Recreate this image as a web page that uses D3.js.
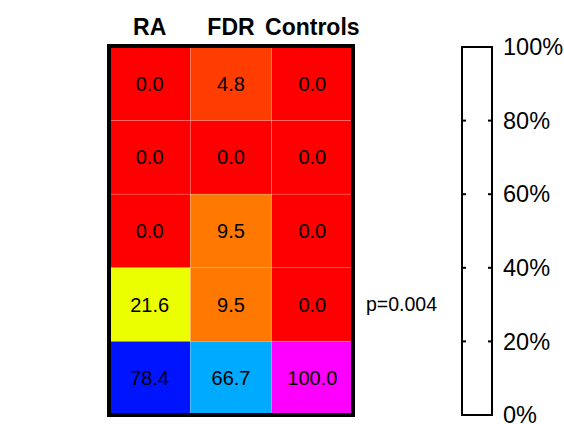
<!DOCTYPE html>
<meta charset="utf-8">
<style>

body { margin: 0; background: #fff; }

svg text {
  font-family: Arial, "Liberation Sans", sans-serif;
  fill: #000;
}

.header text {
  font-weight: bold;
  font-size: 23px;
}

.cells rect {
  stroke: #fff;
  stroke-opacity: 0.25;
  stroke-width: 0.6px;
}

.cells text {
  font-size: 20px;
}

.legend text {
  font-size: 23.5px;
}

</style>

<svg width="564" height="424"></svg>
<script src="https://d3js.org/d3.v7.min.js"></script>
<script>

var groups = ["RA", "FDR", "Controls"];
var rows = [0, 1, 2, 3, 4];

var raValues = [0.0, 0.0, 0.0, 21.6, 78.4];
var fdrValues = [4.8, 0.0, 9.5, 9.5, 66.7];
var controlValues = [0.0, 0.0, 0.0, 0.0, 100.0];

var pLabel = "p=0.004";
var legendTicks = [0, 20, 40, 60, 80, 100];

var svg = d3.select("svg");

// one record per cell
var cells = [];
[raValues, fdrValues, controlValues].forEach(function(vals, i) {
  vals.forEach(function(v, j) {
    cells.push({ group: groups[i], row: rows[j], value: v });
  });
});

var x = d3.scaleBand().domain(groups).range([109, 353]);
var y = d3.scaleBand().domain(rows).range([47, 415]);

// hsv style colormap: 0 -> red, 100 -> magenta
var hue = d3.scaleLinear().domain([0, 100]).range([0, 300]);
function color(v) { return d3.hsl(hue(v), 1, 0.5).toString(); }

var header = svg.append("g").attr("class", "header");
header.selectAll("text")
    .data(groups)
  .enter().append("text")
    .attr("x", function(d) { return x(d) + x.bandwidth() / 2; })
    .attr("y", 35)
    .attr("text-anchor", "middle")
    .text(function(d) { return d; });

var cell = svg.append("g").attr("class", "cells")
  .selectAll("g")
    .data(cells)
  .enter().append("g");

cell.append("rect")
    .attr("x", function(d) { return x(d.group); })
    .attr("y", function(d) { return y(d.row); })
    .attr("width", x.bandwidth())
    .attr("height", y.bandwidth())
    .attr("fill", function(d) { return color(d.value); });

cell.append("text")
    .attr("x", function(d) { return x(d.group) + x.bandwidth() / 2; })
    .attr("y", function(d) { return y(d.row) + y.bandwidth() / 2; })
    .attr("dy", "0.35em")
    .attr("text-anchor", "middle")
    .text(function(d) { return d.value.toFixed(1); });

// frame around the heat map
svg.append("rect")
    .attr("x", 109)
    .attr("y", 46)
    .attr("width", 244)
    .attr("height", 369)
    .attr("fill", "none")
    .attr("stroke", "#000")
    .attr("stroke-width", 4);

svg.append("text")
    .attr("x", 366)
    .attr("y", y(3) + y.bandwidth() / 2)
    .attr("dy", "0.35em")
    .style("font-size", "19.5px")
    .text(pLabel);

// colour bar (drawn empty)
var ly = d3.scaleLinear().domain([0, 100]).range([415, 47]);
var legend = svg.append("g").attr("class", "legend");

legend.append("rect")
    .attr("x", 462)
    .attr("y", ly(100))
    .attr("width", 30)
    .attr("height", ly(0) - ly(100))
    .attr("fill", "#fff")
    .attr("stroke", "#000")
    .attr("stroke-width", 2);

var tick = legend.selectAll(".tick")
    .data(legendTicks)
  .enter().append("g")
    .attr("class", "tick")
    .attr("transform", function(d) { return "translate(0," + ly(d) + ")"; });

tick.filter(function(d) { return d > 0 && d < 100; }).append("line")
    .attr("x1", 462).attr("x2", 466)
    .attr("stroke", "#000").attr("stroke-width", 2);

tick.filter(function(d) { return d > 0 && d < 100; }).append("line")
    .attr("x1", 488).attr("x2", 492)
    .attr("stroke", "#000").attr("stroke-width", 2);

tick.append("text")
    .attr("x", 503)
    .attr("dy", "0.35em")
    .text(function(d) { return d + "%"; });

</script>
